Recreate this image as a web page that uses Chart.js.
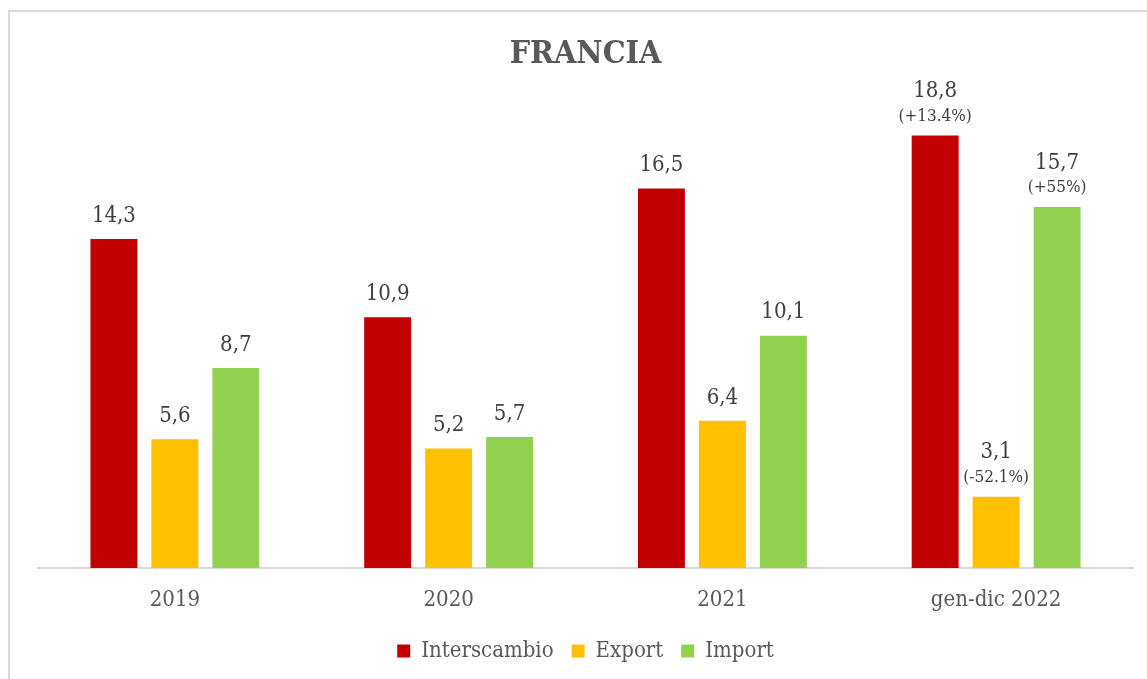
<!DOCTYPE html>
<html>
<head>
<meta charset="utf-8">
<script src="https://cdn.jsdelivr.net/npm/chart.js@4.4.0/dist/chart.umd.min.js"></script>
<style>
html,body{margin:0;padding:0;background:#fff;}
#wrap{width:1147px;height:679px;position:relative;}
</style>
</head>
<body>
<div id="wrap"><canvas id="c" width="1147" height="679"></canvas></div>
<script>
const categories = ['2019', '2020', '2021', 'gen-dic 2022'];
const interscambio = [14.3, 10.9, 16.5, 18.8];
const exportVals = [5.6, 5.2, 6.4, 3.1];
const importVals = [8.7, 5.7, 10.1, 15.7];
const interscambioPct = [null, null, null, '(+13.4%)'];
const exportPct = [null, null, null, '(-52.1%)'];
const importPct = [null, null, null, '(+55%)'];
const titleText = 'FRANCIA';

const SERIF = '"DejaVu Serif Condensed", "DejaVu Serif", serif';
const pctLists = [interscambioPct, exportPct, importPct];

const borderPlugin = {
  id: 'frame',
  beforeDraw(chart) {
    const ctx = chart.ctx;
    ctx.save();
    ctx.fillStyle = '#fff';
    ctx.fillRect(0, 0, chart.width, chart.height);
    ctx.strokeStyle = '#D9D9D9';
    ctx.lineWidth = 2;
    ctx.strokeRect(9, 11, 1400, 1000);
    ctx.restore();
  }
};

const labelPlugin = {
  id: 'valueLabels',
  afterDatasetsDraw(chart) {
    const ctx = chart.ctx;
    ctx.save();
    ctx.textAlign = 'center';
    ctx.textBaseline = 'middle';
    chart.data.datasets.forEach((ds, di) => {
      const meta = chart.getDatasetMeta(di);
      meta.data.forEach((el, i) => {
        const v = ds.data[i];
        const txt = v.toFixed(1).replace('.', ',');
        const pct = pctLists[di][i];
        ctx.fillStyle = '#404040';
        if (pct) {
          ctx.font = '22px ' + SERIF;
          ctx.fillText(txt, el.x, el.y - 44);
          ctx.font = '17px ' + SERIF;
          ctx.fillText(pct, el.x, el.y - 19);
        } else {
          ctx.font = '22px ' + SERIF;
          ctx.fillText(txt, el.x, el.y - 23);
        }
      });
    });
    ctx.restore();
  }
};

const common = { categoryPercentage: 0.668, barPercentage: 0.77, borderWidth: 0 };

new Chart(document.getElementById('c'), {
  type: 'bar',
  data: {
    labels: categories,
    datasets: [
      Object.assign({ label: 'Interscambio', data: interscambio, backgroundColor: '#C00000' }, common),
      Object.assign({ label: 'Export', data: exportVals, backgroundColor: '#FFC000' }, common),
      Object.assign({ label: 'Import', data: importVals, backgroundColor: '#92D050' }, common)
    ]
  },
  options: {
    responsive: false,
    animation: false,
    layout: { padding: { left: 38, right: 14, top: 0, bottom: 7 } },
    plugins: {
      title: {
        display: true,
        text: titleText,
        color: '#595959',
        font: { family: SERIF, size: 32, weight: 'bold' },
        padding: { top: 35.8, bottom: 33.8 }
      },
      legend: {
        display: true,
        position: 'bottom',
        labels: {
          color: '#595959',
          font: { family: SERIF, size: 22 },
          boxWidth: 13,
          boxHeight: 13,
          padding: 18
        }
      },
      tooltip: { enabled: false }
    },
    scales: {
      x: {
        grid: { display: false, drawTicks: false },
        border: { color: '#D9D9D9', width: 2 },
        ticks: { color: '#595959', font: { family: SERIF, size: 22 }, padding: 19 },
        afterFit(s) { s.height = 54; }
      },
      y: {
        display: false,
        min: 0,
        max: 20
      }
    }
  },
  plugins: [borderPlugin, labelPlugin]
});
</script>
</body>
</html>
